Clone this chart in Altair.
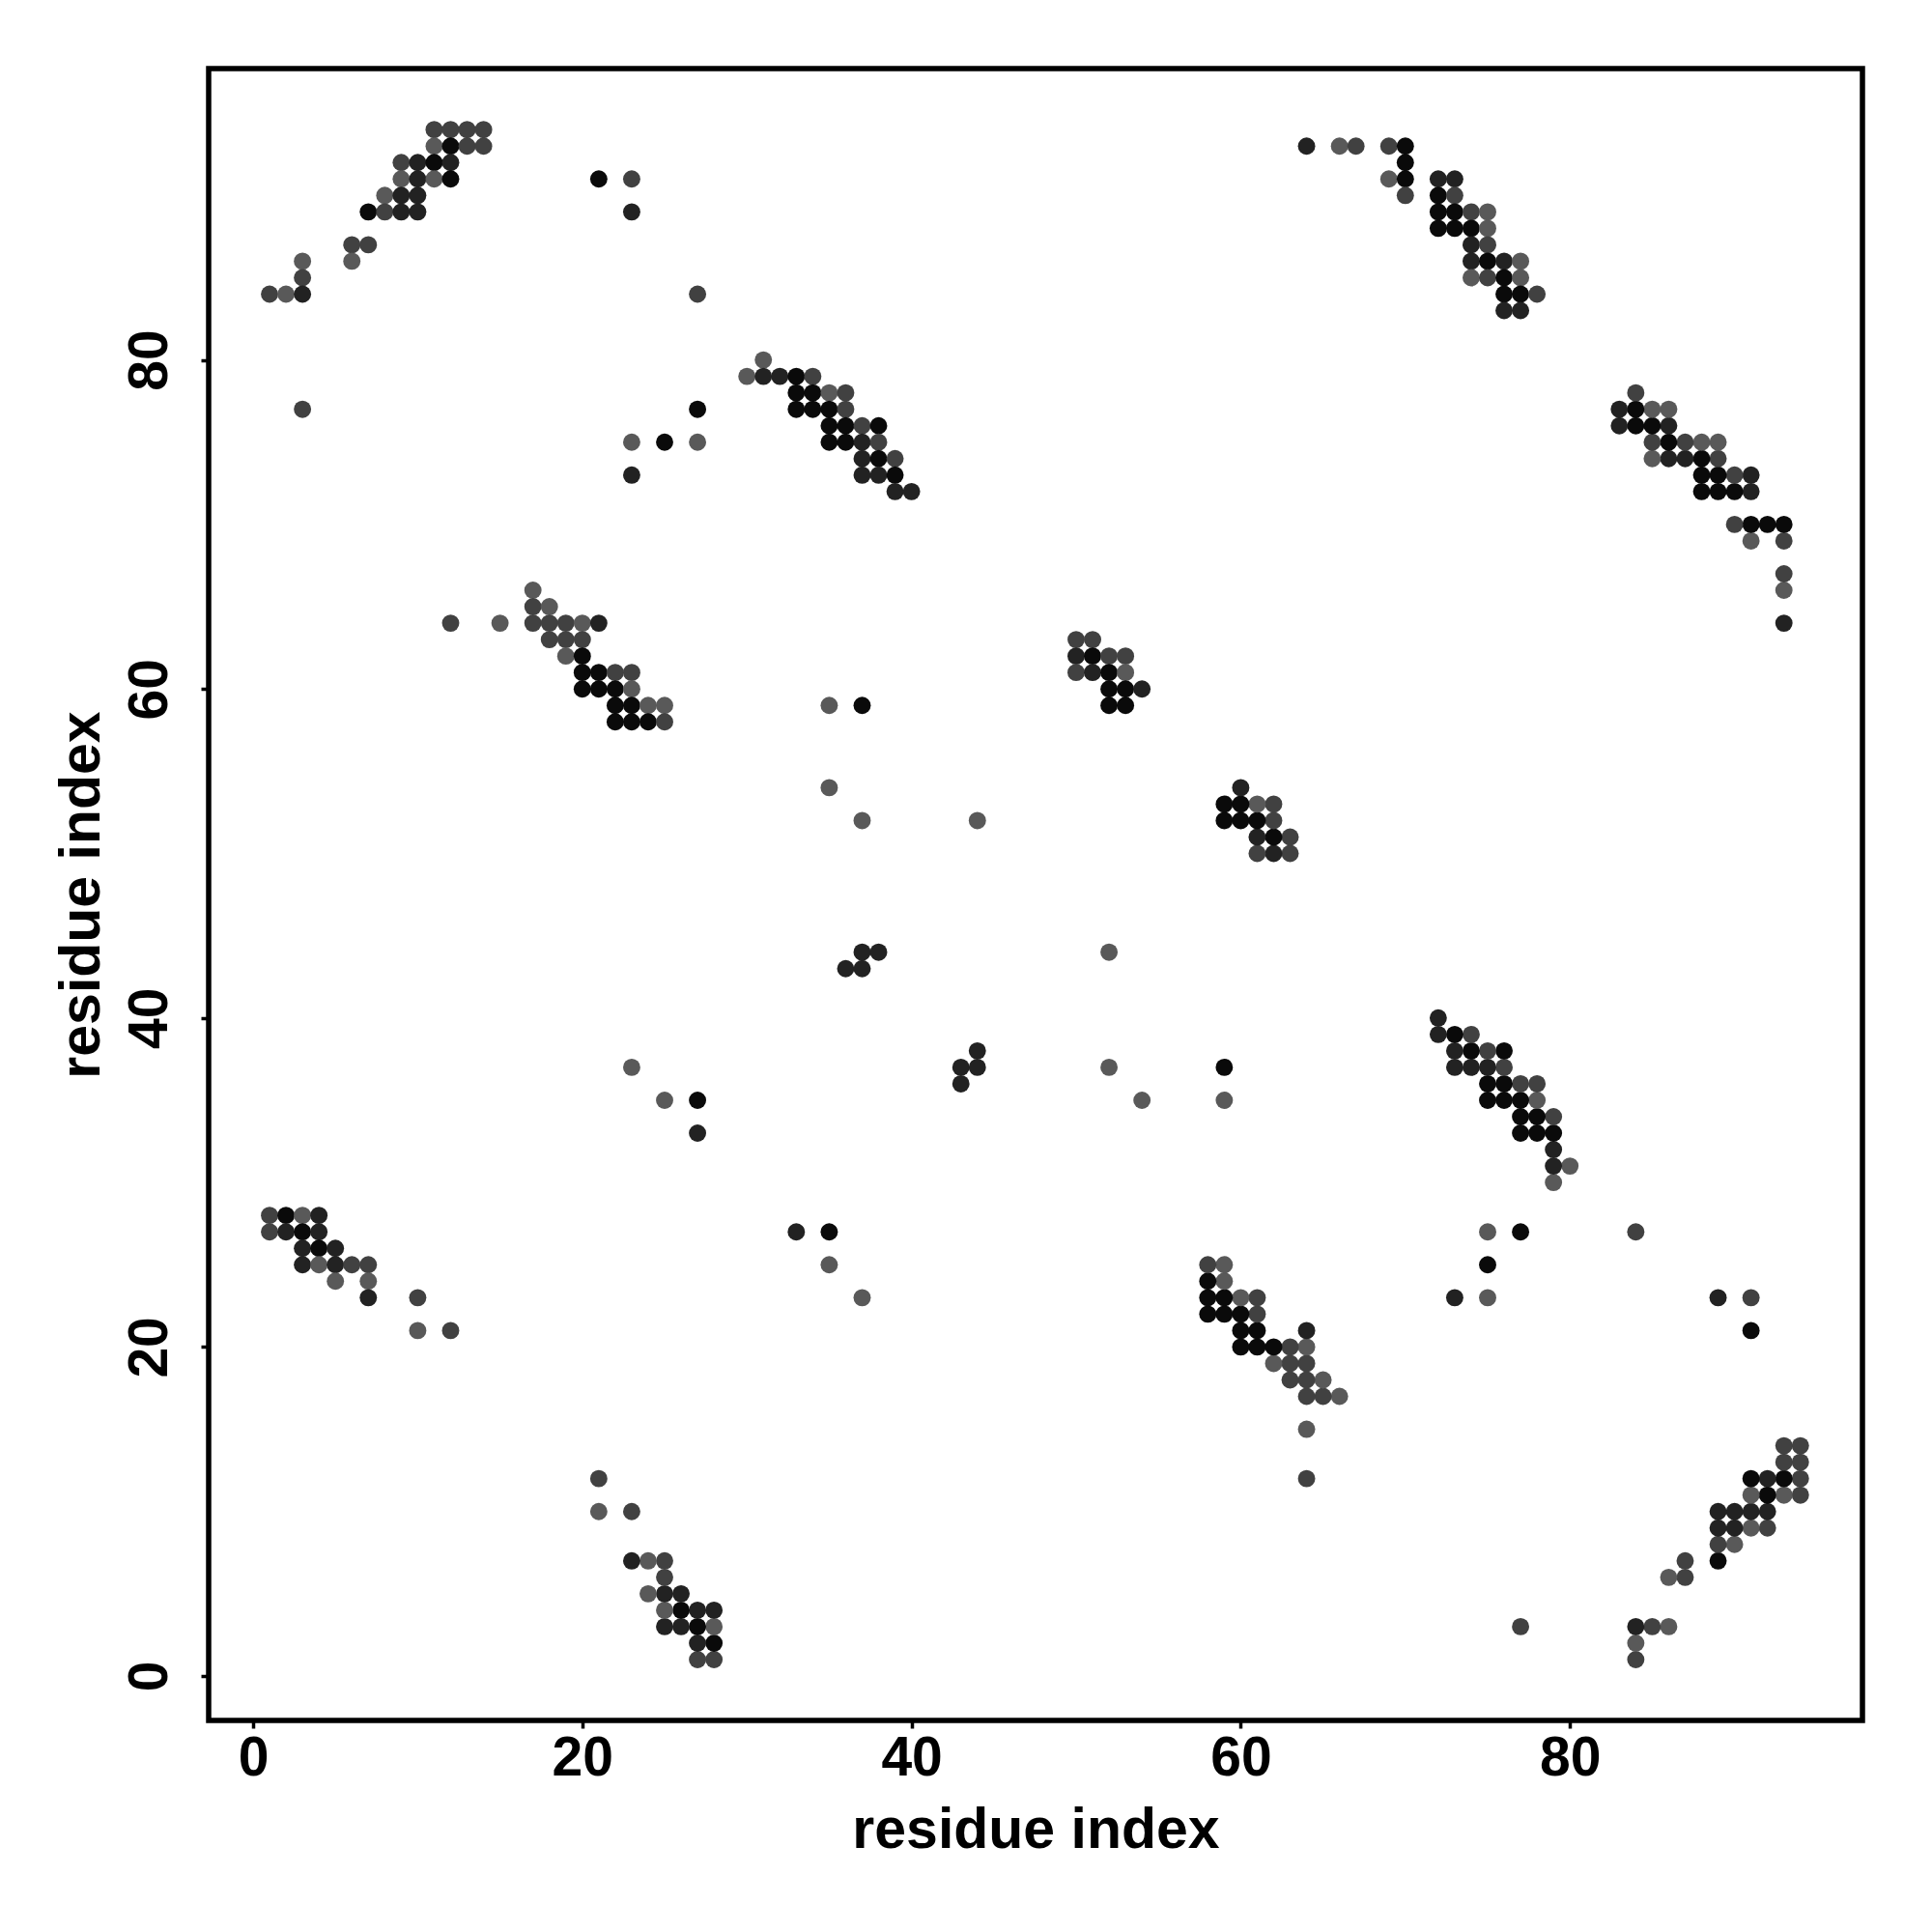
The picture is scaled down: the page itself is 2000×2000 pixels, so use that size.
import altair as alt
import pandas as pd

# Contacts read from the (symmetric) contact map: residue i < residue j, shade level
# shade: L = light grey, M = mid grey, D = dark, K = near black
res_i = [
    # block near (1-14, 77-94)
    11, 12, 13, 14, 11, 12, 13, 14, 9, 10, 11, 12, 9, 10, 11, 12, 8, 9, 10,
    7, 8, 9, 10, 6, 7, 3, 6, 3, 1, 2, 3, 3,
    # block near (21-40, 72-91)
    21, 23, 23, 27, 31, 30, 31, 32, 33, 34, 33, 34, 35, 36, 27, 33, 34, 35, 36,
    35, 36, 37, 38, 23, 25, 27, 35, 36, 37, 38, 37, 38, 39, 23, 37, 38, 39, 39, 40,
    # block near (12-25, 58-66)
    17, 17, 18, 12, 15, 17, 18, 19, 20, 21, 18, 19, 20, 19, 20, 20, 21, 22, 23,
    20, 21, 22, 23, 22, 23, 24, 25, 22, 23, 24, 25,
    # block near (64-78, 83-93)
    64, 66, 67, 69, 70, 70, 69, 70, 72, 73, 70, 72, 73, 72, 73, 74, 75, 72, 73, 74, 75,
    74, 75, 74, 75, 76, 77, 74, 75, 76, 77, 76, 77, 78, 76, 77,
    # block near (50-54, 59-63)
    50, 51, 50, 51, 52, 53, 50, 51, 52, 53, 52, 53, 54, 52, 53,
    # isolated contacts
    35, 37, 35, 37, 44, 36, 37, 37, 38, 23, 25, 27, 27, 10, 10, 12,
    # block near (1-7, 23-28)
    1, 2, 3, 4, 1, 2, 3, 4, 3, 4, 5, 3, 4, 5, 6, 7, 5, 7, 7,
]
res_j = [
    94, 94, 94, 94, 93, 93, 93, 93, 92, 92, 92, 92, 91, 91, 91, 91, 90, 90, 90,
    89, 89, 89, 89, 87, 87, 86, 86, 85, 84, 84, 84, 77,
    91, 91, 89, 84, 80, 79, 79, 79, 79, 79, 78, 78, 78, 78, 77, 77, 77, 77, 77,
    76, 76, 76, 76, 75, 75, 75, 75, 75, 75, 75, 74, 74, 74, 73, 73, 73, 73, 72, 72,
    66, 65, 65, 64, 64, 64, 64, 64, 64, 64, 63, 63, 63, 62, 62, 61, 61, 61, 61,
    60, 60, 60, 60, 59, 59, 59, 59, 58, 58, 58, 58,
    93, 93, 93, 93, 93, 92, 91, 91, 91, 91, 90, 90, 90, 89, 89, 89, 89, 88, 88, 88, 88,
    87, 87, 86, 86, 86, 86, 85, 85, 85, 85, 84, 84, 84, 83, 83,
    63, 63, 62, 62, 62, 62, 61, 61, 61, 61, 60, 60, 60, 59, 59,
    59, 59, 54, 52, 52, 43, 43, 44, 44, 37, 35, 35, 33, 23, 21, 21,
    28, 28, 28, 28, 27, 27, 27, 27, 26, 26, 26, 25, 25, 25, 25, 25, 24, 24, 23,
]
shade = [
    "M", "M", "M", "M", "L", "K", "M", "M", "M", "D", "K", "D", "L", "D", "L", "K", "L", "D", "D",
    "K", "M", "D", "D", "M", "M", "L", "L", "M", "M", "L", "D", "M",
    "K", "M", "D", "M", "L", "L", "D", "D", "K", "M", "K", "K", "L", "M", "K", "K", "K", "K", "M",
    "K", "K", "M", "K", "L", "K", "L", "K", "K", "D", "M", "D", "K", "M", "D", "D", "D", "K", "D", "D",
    "L", "M", "L", "M", "L", "M", "M", "M", "L", "D", "M", "M", "M", "L", "K", "K", "K", "M", "M",
    "K", "K", "K", "L", "K", "K", "L", "L", "K", "K", "K", "M",
    "D", "L", "M", "M", "K", "K", "L", "K", "D", "D", "M", "K", "M", "K", "K", "M", "L", "K", "K", "K", "L",
    "D", "M", "D", "K", "D", "L", "L", "M", "K", "L", "K", "K", "M", "D", "D",
    "M", "M", "D", "K", "M", "M", "M", "D", "K", "L", "K", "K", "D", "K", "K",
    "L", "K", "L", "L", "L", "D", "D", "D", "D", "L", "L", "K", "D", "M", "L", "M",
    "M", "K", "L", "D", "M", "D", "K", "D", "D", "K", "D", "D", "L", "D", "M", "M", "L", "L", "D",
]

shade_levels = ["L", "M", "D", "K"]
shade_colors = ["#595959", "#414141", "#222222", "#0a0a0a"]
tick_values = [0, 20, 40, 60, 80]

# a contact map is symmetric: each contact (i, j) appears at (i, j) and (j, i)
df = pd.DataFrame({
    "x": res_i + res_j,
    "y": res_j + res_i,
    "shade": shade + shade,
})

FONT = "Liberation Sans"
W, H = 1712, 1710

chart = alt.Chart(df).mark_circle(size=320, opacity=1).encode(
    x=alt.X("x:Q",
            scale=alt.Scale(domain=[-2.7, 97.77], nice=False, zero=False),
            axis=alt.Axis(values=tick_values, title="residue index", grid=False, domain=False,
                          labelFont=FONT, labelFontSize=57, labelFontWeight="bold", labelColor="black",
                          labelBaseline="alphabetic", labelPadding=48, labelFlush=False,
                          tickColor="black", tickSize=8, tickWidth=3.5,
                          titleFont=FONT, titleFontSize=59, titleFontWeight="bold", titleColor="black",
                          titleBaseline="alphabetic", titleY=131, titleX=W / 2, titleAlign="center")),
    y=alt.Y("y:Q",
            scale=alt.Scale(domain=[-2.7, 97.71], nice=False, zero=False),
            axis=alt.Axis(values=tick_values, title="residue index", grid=False, domain=False,
                          labelFont=FONT, labelFontSize=57, labelFontWeight="bold", labelColor="black",
                          labelAngle=270, labelAlign="center", labelBaseline="alphabetic",
                          labelPadding=36, labelFlush=False,
                          tickColor="black", tickSize=8, tickWidth=3.5,
                          titleFont=FONT, titleFontSize=59, titleFontWeight="bold", titleColor="black",
                          titleAngle=270, titleAlign="center", titleBaseline="alphabetic",
                          titleX=-114, titleY=H / 2)),
    color=alt.Color("shade:N", scale=alt.Scale(domain=shade_levels, range=shade_colors), legend=None),
).properties(
    width=W, height=H,
    autosize="none",
    background="white",
    padding={"left": 208, "top": 63, "right": 60, "bottom": 200},
).configure_view(
    stroke="black", strokeWidth=5.5, fill="white"
)

chart.save("out.html", embed_options={"renderer": "svg", "actions": False})
